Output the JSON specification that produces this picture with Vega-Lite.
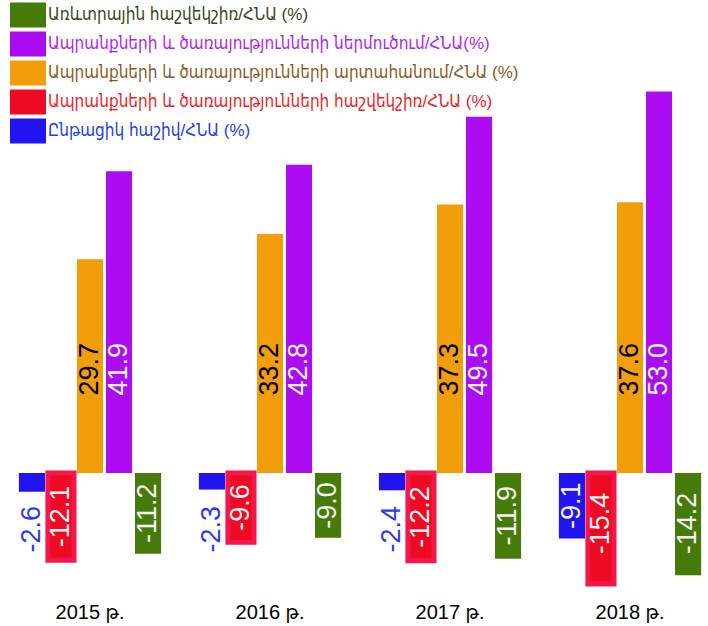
{
  "$schema": "https://vega.github.io/schema/vega-lite/v6.json",
  "width": 708,
  "height": 598,
  "autosize": {"type": "none"},
  "padding": {"left": 0, "right": 0, "top": 0, "bottom": 28},
  "background": "white",
  "config": {"view": {"stroke": null}, "font": "Liberation Sans, DejaVu Sans Condensed, DejaVu Sans, sans-serif"},
  "data": {"values": [
    {"year": "2015 թ.", "series": "Ընթացիկ հաշիվ/ՀՆԱ (%)", "value": -2.6},
    {"year": "2015 թ.", "series": "Ապրանքների և ծառայությունների հաշվեկշիռ/ՀՆԱ (%)", "value": -12.1},
    {"year": "2015 թ.", "series": "Ապրանքների և ծառայությունների արտահանում/ՀՆԱ (%)", "value": 29.7},
    {"year": "2015 թ.", "series": "Ապրանքների և ծառայությունների ներմուծում/ՀՆԱ(%)", "value": 41.9},
    {"year": "2015 թ.", "series": "Առևտրային հաշվեկշիռ/ՀՆԱ (%)", "value": -11.2},
    {"year": "2016 թ.", "series": "Ընթացիկ հաշիվ/ՀՆԱ (%)", "value": -2.3},
    {"year": "2016 թ.", "series": "Ապրանքների և ծառայությունների հաշվեկշիռ/ՀՆԱ (%)", "value": -9.6},
    {"year": "2016 թ.", "series": "Ապրանքների և ծառայությունների արտահանում/ՀՆԱ (%)", "value": 33.2},
    {"year": "2016 թ.", "series": "Ապրանքների և ծառայությունների ներմուծում/ՀՆԱ(%)", "value": 42.8},
    {"year": "2016 թ.", "series": "Առևտրային հաշվեկշիռ/ՀՆԱ (%)", "value": -9.0},
    {"year": "2017 թ.", "series": "Ընթացիկ հաշիվ/ՀՆԱ (%)", "value": -2.4},
    {"year": "2017 թ.", "series": "Ապրանքների և ծառայությունների հաշվեկշիռ/ՀՆԱ (%)", "value": -12.2},
    {"year": "2017 թ.", "series": "Ապրանքների և ծառայությունների արտահանում/ՀՆԱ (%)", "value": 37.3},
    {"year": "2017 թ.", "series": "Ապրանքների և ծառայությունների ներմուծում/ՀՆԱ(%)", "value": 49.5},
    {"year": "2017 թ.", "series": "Առևտրային հաշվեկշիռ/ՀՆԱ (%)", "value": -11.9},
    {"year": "2018 թ.", "series": "Ընթացիկ հաշիվ/ՀՆԱ (%)", "value": -9.1},
    {"year": "2018 թ.", "series": "Ապրանքների և ծառայությունների հաշվեկշիռ/ՀՆԱ (%)", "value": -15.4},
    {"year": "2018 թ.", "series": "Ապրանքների և ծառայությունների արտահանում/ՀՆԱ (%)", "value": 37.6},
    {"year": "2018 թ.", "series": "Ապրանքների և ծառայությունների ներմուծում/ՀՆԱ(%)", "value": 53.0},
    {"year": "2018 թ.", "series": "Առևտրային հաշվեկշիռ/ՀՆԱ (%)", "value": -14.2}
  ]},
  "transform": [
    {"calculate": "datum.value > 0 ? 14.4 : (datum.value > -5 ? -7.8 : max(datum.value / 2, -7))", "as": "labelY"},
    {"calculate": "replace(format(datum.value, '.1f'), '\u2212', '-')", "as": "labelText"}
  ],
  "encoding": {
    "x": {"field": "year", "type": "nominal", "sort": null,
          "scale": {"range": [0, 720], "paddingInner": 0, "paddingOuter": 0},
          "axis": {"title": null, "domain": false, "ticks": false, "labelAngle": 0, "labelFontSize": 20, "labelColor": "black", "labelPadding": 4}},
    "xOffset": {"field": "series", "type": "nominal",
                "sort": ["Ընթացիկ հաշիվ/ՀՆԱ (%)", "Ապրանքների և ծառայությունների հաշվեկշիռ/ՀՆԱ (%)", "Ապրանքների և ծառայությունների արտահանում/ՀՆԱ (%)", "Ապրանքների և ծառայությունների ներմուծում/ՀՆԱ(%)", "Առևտրային հաշվեկշիռ/ՀՆԱ (%)"],
                "scale": {"paddingInner": 0.1, "paddingOuter": 0.65}}
  },
  "layer": [
    {
      "mark": {"type": "bar", "stroke": "#f5174a"},
      "encoding": {
        "y": {"field": "value", "type": "quantitative", "scale": {"domain": [-17.36, 65.7], "nice": false, "zero": true}, "axis": null},
        "color": {"field": "series", "type": "nominal",
                  "scale": {"domain": ["Առևտրային հաշվեկշիռ/ՀՆԱ (%)", "Ապրանքների և ծառայությունների ներմուծում/ՀՆԱ(%)", "Ապրանքների և ծառայությունների արտահանում/ՀՆԱ (%)", "Ապրանքների և ծառայությունների հաշվեկշիռ/ՀՆԱ (%)", "Ընթացիկ հաշիվ/ՀՆԱ (%)"],
                            "range": ["#467a09", "#ab0cf2", "#f29e0b", "#ef0a24", "#2114f0"]},
                  "legend": {
                    "title": null, "orient": "none", "legendX": 15.5, "legendY": 2.5,
                    "symbolType": "M-1.44,-1H1.44V1H-1.44Z", "symbolSize": 625, "symbolOpacity": 1,
                    "symbolStrokeWidth": 0,
                    "labelFontSize": 17, "labelOffset": 7.5, "labelLimit": 700,
                    "labelColor": {"expr": "datum.value === 'Առևտրային հաշվեկշիռ/ՀՆԱ (%)' ? '#34481a' : datum.value === 'Ապրանքների և ծառայությունների ներմուծում/ՀՆԱ(%)' ? '#b01ef0' : datum.value === 'Ապրանքների և ծառայությունների արտահանում/ՀՆԱ (%)' ? '#8a5a1e' : datum.value === 'Ապրանքների և ծառայությունների հաշվեկշիռ/ՀՆԱ (%)' ? '#ee1c25' : '#2040e0'"},
                    "rowPadding": 4
                  }},
        "strokeWidth": {"condition": {"test": "datum.series === 'Ապրանքների և ծառայությունների հաշվեկշիռ/ՀՆԱ (%)'", "value": 5}, "value": 0}
      }
    },
    {
      "transform": [{"filter": "datum.series === 'Ապրանքների և ծառայությունների արտահանում/ՀՆԱ (%)'"}],
      "mark": {"type": "text", "angle": 270, "align": "center", "baseline": "middle", "fontSize": 27, "color": "#000000"},
      "encoding": {
        "y": {"field": "labelY", "type": "quantitative"},
        "text": {"field": "labelText", "type": "nominal"}
      }
    },
    {
      "transform": [{"filter": "datum.series === 'Ընթացիկ հաշիվ/ՀՆԱ (%)' && datum.value > -5"}],
      "mark": {"type": "text", "angle": 270, "align": "center", "baseline": "middle", "fontSize": 27, "color": "#2a3cf0"},
      "encoding": {
        "y": {"field": "labelY", "type": "quantitative"},
        "text": {"field": "labelText", "type": "nominal"}
      }
    },
    {
      "transform": [{"filter": "datum.series !== 'Ապրանքների և ծառայությունների արտահանում/ՀՆԱ (%)' && !(datum.series === 'Ընթացիկ հաշիվ/ՀՆԱ (%)' && datum.value > -5)"}],
      "mark": {"type": "text", "angle": 270, "align": "center", "baseline": "middle", "fontSize": 27, "color": "#f4f4f4"},
      "encoding": {
        "y": {"field": "labelY", "type": "quantitative"},
        "text": {"field": "labelText", "type": "nominal"}
      }
    }
  ]
}
